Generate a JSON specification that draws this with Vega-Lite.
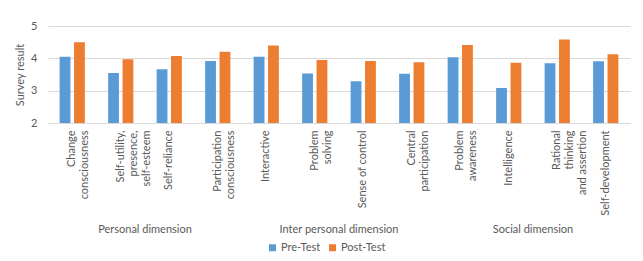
{
  "$schema": "https://vega.github.io/schema/vega-lite/v6.json",
  "padding": {"top": 20, "left": 14, "right": 10, "bottom": 5},
  "background": "white",
  "width": 582,
  "height": 97,
  "data": {
    "values": [
      {"dim": "Personal dimension", "cat": "Change|consciousness", "series": "Pre-Test", "value": 4.05},
      {"dim": "Personal dimension", "cat": "Change|consciousness", "series": "Post-Test", "value": 4.5},
      {"dim": "Personal dimension", "cat": "Self-utility,|presence,|self-esteem", "series": "Pre-Test", "value": 3.55},
      {"dim": "Personal dimension", "cat": "Self-utility,|presence,|self-esteem", "series": "Post-Test", "value": 3.97},
      {"dim": "Personal dimension", "cat": "Self-reliance", "series": "Pre-Test", "value": 3.66},
      {"dim": "Personal dimension", "cat": "Self-reliance", "series": "Post-Test", "value": 4.07},
      {"dim": "Personal dimension", "cat": "Participation|consciousness", "series": "Pre-Test", "value": 3.92},
      {"dim": "Personal dimension", "cat": "Participation|consciousness", "series": "Post-Test", "value": 4.2},
      {"dim": "Inter personal dimension", "cat": "Interactive", "series": "Pre-Test", "value": 4.05},
      {"dim": "Inter personal dimension", "cat": "Interactive", "series": "Post-Test", "value": 4.4},
      {"dim": "Inter personal dimension", "cat": "Problem|solving", "series": "Pre-Test", "value": 3.53},
      {"dim": "Inter personal dimension", "cat": "Problem|solving", "series": "Post-Test", "value": 3.95},
      {"dim": "Inter personal dimension", "cat": "Sense of control", "series": "Pre-Test", "value": 3.29},
      {"dim": "Inter personal dimension", "cat": "Sense of control", "series": "Post-Test", "value": 3.92},
      {"dim": "Inter personal dimension", "cat": "Central|participation", "series": "Pre-Test", "value": 3.52},
      {"dim": "Inter personal dimension", "cat": "Central|participation", "series": "Post-Test", "value": 3.88},
      {"dim": "Social dimension", "cat": "Problem|awareness", "series": "Pre-Test", "value": 4.03},
      {"dim": "Social dimension", "cat": "Problem|awareness", "series": "Post-Test", "value": 4.41},
      {"dim": "Social dimension", "cat": "Intelligence", "series": "Pre-Test", "value": 3.08},
      {"dim": "Social dimension", "cat": "Intelligence", "series": "Post-Test", "value": 3.86},
      {"dim": "Social dimension", "cat": "Rational|thinking|and assertion", "series": "Pre-Test", "value": 3.85},
      {"dim": "Social dimension", "cat": "Rational|thinking|and assertion", "series": "Post-Test", "value": 4.58},
      {"dim": "Social dimension", "cat": "Self-development", "series": "Pre-Test", "value": 3.91},
      {"dim": "Social dimension", "cat": "Self-development", "series": "Post-Test", "value": 4.13}
    ]
  },
  "layer": [
    {
      "mark": {"type": "bar", "clip": true},
      "encoding": {
        "x": {
          "field": "cat",
          "type": "nominal",
          "sort": null,
          "scale": {"paddingInner": 0.48, "paddingOuter": 0.24},
          "axis": {
            "orient": "bottom",
            "title": null,
            "labelAngle": -90,
            "labelAlign": "right",
            "labelBaseline": "middle",
            "labelExpr": "split(datum.value, '|')",
            "labelLineHeight": 13,
            "labelFont": "Lato",
            "labelFontSize": 11,
            "labelColor": "#595959",
            "labelPadding": 7,
            "labelLimit": 0,
            "labelOverlap": false,
            "ticks": false,
            "domainColor": "#d9d9d9",
            "grid": false
          }
        },
        "xOffset": {
          "field": "series",
          "type": "nominal",
          "sort": ["Pre-Test", "Post-Test"],
          "scale": {"paddingInner": 0.25}
        },
        "y": {
          "field": "value",
          "type": "quantitative",
          "scale": {"domain": [2, 5], "nice": false, "zero": false},
          "axis": {
            "title": "Survey result",
            "titleFont": "Lato",
            "titleFontSize": 11,
            "titleFontWeight": "normal",
            "titleColor": "#595959",
            "titlePadding": 5,
            "tickCount": 3,
            "labelFont": "Lato",
            "labelFontSize": 11,
            "labelColor": "#595959",
            "labelPadding": 11,
            "ticks": false,
            "domain": false,
            "grid": true,
            "gridColor": "#d9d9d9",
            "gridWidth": 1
          }
        },
        "color": {
          "field": "series",
          "type": "nominal",
          "sort": ["Pre-Test", "Post-Test"],
          "scale": {"domain": ["Pre-Test", "Post-Test"], "range": ["#5B9BD5", "#ED7D31"]},
          "legend": {
            "title": null,
            "orient": "none",
            "direction": "horizontal",
            "legendX": 219,
            "legendY": 216,
            "symbolType": "square",
            "symbolSize": 49,
            "labelFont": "Lato",
            "labelFontSize": 11,
            "labelColor": "#595959",
            "labelOffset": 3,
            "columnPadding": 6
          }
        }
      }
    },
    {
      "mark": {"type": "bar", "opacity": 0, "clip": true},
      "encoding": {
        "x": {
          "field": "dim",
          "type": "nominal",
          "sort": ["Personal dimension", "Inter personal dimension", "Social dimension"],
          "scale": {"paddingInner": 0, "paddingOuter": 0},
          "axis": {
            "orient": "bottom",
            "title": null,
            "labelAngle": 0,
            "labelFont": "Lato",
            "labelFontSize": 11,
            "labelColor": "#595959",
            "labelPadding": 0,
            "labelBaseline": "top",
            "offset": 100,
            "ticks": false,
            "domain": false,
            "grid": false
          }
        }
      }
    }
  ],
  "resolve": {"scale": {"x": "independent"}, "axis": {"x": "independent"}},
  "config": {
    "view": {"stroke": null}
  }
}
